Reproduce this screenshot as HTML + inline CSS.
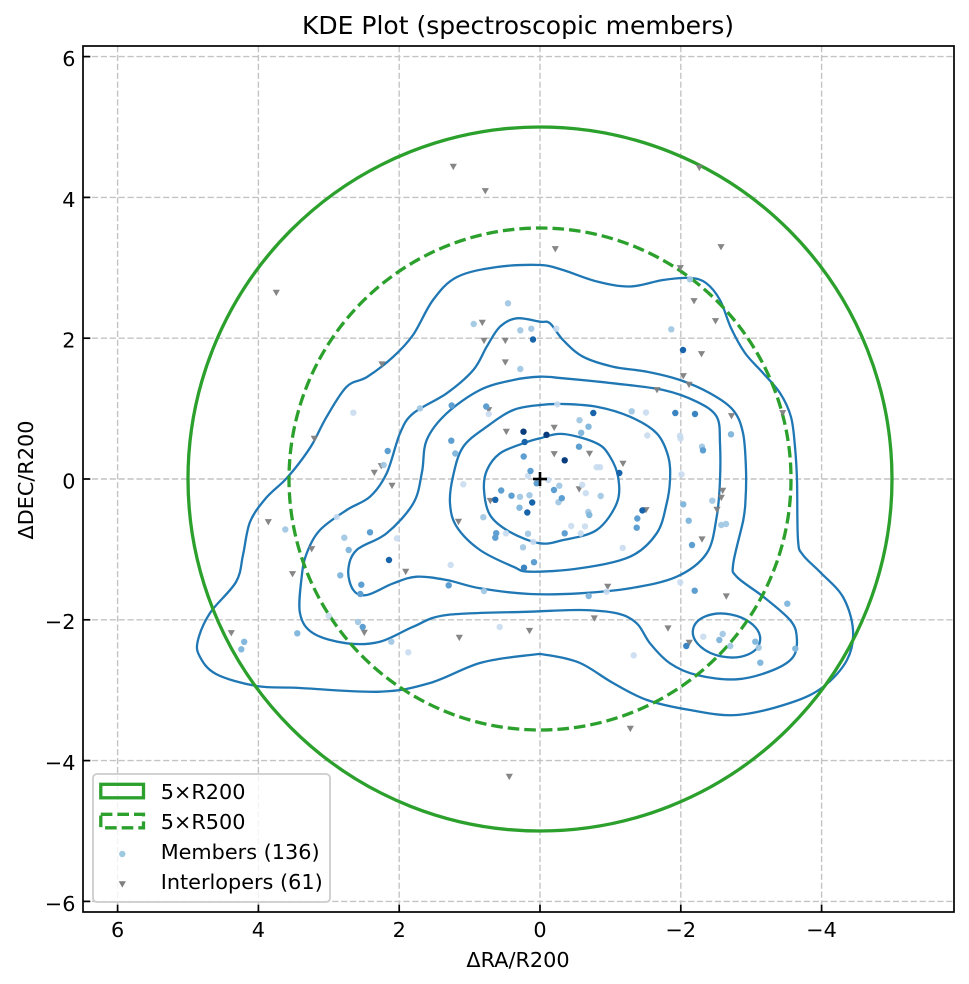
<!DOCTYPE html>
<html>
<head>
<meta charset="utf-8">
<style>
  html,body{margin:0;padding:0;background:#fff;}
  svg{display:block;}
  text{font-family:"DejaVu Sans","Liberation Sans",sans-serif;fill:#000;}
</style>
</head>
<body>
<svg width="969" height="984" viewBox="0 0 969 984" xmlns="http://www.w3.org/2000/svg">
  <rect x="0" y="0" width="969" height="984" fill="#fff"/>
  <defs>
    <clipPath id="ax"><rect x="83" y="46" width="871" height="866"/></clipPath>
  </defs>

  <!-- grid -->
  <g stroke="#c4c4c4" stroke-width="1.4" stroke-dasharray="6.2 2.7" fill="none">
    <line x1="117.6" y1="46" x2="117.6" y2="912"/>
    <line x1="258.4" y1="46" x2="258.4" y2="912"/>
    <line x1="399.2" y1="46" x2="399.2" y2="912"/>
    <line x1="540" y1="46" x2="540" y2="912"/>
    <line x1="680.8" y1="46" x2="680.8" y2="912"/>
    <line x1="821.6" y1="46" x2="821.6" y2="912"/>
    <line x1="83" y1="56.6" x2="954" y2="56.6"/>
    <line x1="83" y1="197.4" x2="954" y2="197.4"/>
    <line x1="83" y1="338.2" x2="954" y2="338.2"/>
    <line x1="83" y1="479" x2="954" y2="479"/>
    <line x1="83" y1="619.8" x2="954" y2="619.8"/>
    <line x1="83" y1="760.6" x2="954" y2="760.6"/>
    <line x1="83" y1="901.4" x2="954" y2="901.4"/>
  </g>

  <g clip-path="url(#ax)">
  <!-- contours -->
  <g fill="none" stroke="#1f77b4" stroke-width="2.3" stroke-linejoin="round">
    <path class="ct" d="M540,265 L563,270 L597,281.5 L630,286.5 L663,280 L690,278 L706,283 L720,300 L731,328 L745,353 L763,373 L780,393 L791,417 L795,447 L797,480 L798,540 L803,555 L820,572 L843,597 L853,630 L847,660 L823,687 L790,703 L737,715 L690,710 L647,700 L613,683 L580,663 L547,655 L530,655 L480,663 L430,683 L380,691.7 L300,688 L256.7,686 L216,674 L199.5,656 L198,640 L210,613 L236,582 L243,555 L250,522 L266,498 L285,480 L300,462 L313,443 L326.7,416.7 L346.7,386.7 L367,377 L393,357 L413,335 L433,300 L457,277 L497,267 Z"/>
    <path class="ct" d="M540,321.7 L550,323.3 L563,340 L583,356.7 L613,366.7 L647,371.7 L680,380 L710,393.3 L733,410 L743,433 L746,470 L745.5,500 L743.3,520 L733.3,563.3 L736.7,576.7 L763.3,596.7 L790,620 L796.7,636.7 L793.3,656.7 L773.3,670 L736.7,679.3 L696.7,675 L670,663.3 L650,643.3 L636.7,623.3 L616.7,613.3 L580,610 L530,611.7 L446.7,615 L413.3,626.7 L380,641.7 L346.7,643.3 L313.3,633.3 L300,613.3 L301.7,576.7 L306.7,553.3 L320,530 L346.7,510 L370,496.7 L386.7,473.3 L400,433.3 L413.3,413.3 L446.7,393.3 L473.3,370 L486.7,346.7 L500,326.7 L516.7,318.3 Z"/>
    <path class="ct" d="M540,376.7 L563.3,378.3 L613.3,383.3 L663.3,390 L696.7,401.7 L716.7,416.7 L720,443.3 L720,480 L716.7,516.7 L706.7,553.3 L676.7,576.7 L630,588.3 L580,593.3 L530,594 L480,588.3 L446.7,580 L416.7,576.7 L393.3,583.3 L366.7,595 L353.3,590 L348.3,570 L356.7,550 L386.7,533.3 L413.3,503.3 L422,472 L426.7,440 L446.7,413.3 L480,390 L513.3,380 Z"/>
    <path class="ct" d="M540,405 L563.3,404 L596.7,406.7 L630,416.7 L656.7,433.3 L668.3,456.7 L670,480 L666.7,503.3 L656.7,533.3 L630,556.7 L580,568.3 L530,571.7 L513.3,566.7 L480,550 L456.7,526.7 L450,503.3 L453.3,475 L463.3,446.7 L486.7,426.7 L513.3,410 Z"/>
    <path class="ct" d="M540,438.3 L563.3,434 L596.7,443.3 L610,456.7 L618.3,478 L616.7,503.3 L596.7,530 L563.3,540 L540,543.3 L510,532 L490,515 L484,490 L487,470 L500,453.3 L523.3,443.3 Z"/>
    <ellipse cx="726.5" cy="635.5" rx="34" ry="21.5" transform="rotate(10 726.5 635.5)"/>
  </g>

  <!-- green circles -->
  <circle cx="540" cy="479" r="352" fill="none" stroke="#2ca02c" stroke-width="3.3"/>
  <circle cx="540" cy="479" r="251" fill="none" stroke="#2ca02c" stroke-width="3.3" stroke-dasharray="11.6 5"/>

  <!-- interlopers -->
  <path fill="#7f7f7f" fill-opacity="0.95" d="
M449.7,163.8h7.2l-3.6,6.3z M481.7,188.1h7.2l-3.6,6.3z M272.7,289.8h7.2l-3.6,6.3z M478.7,319.8h7.2l-3.6,6.3z
M480.4,337.8h7.2l-3.6,6.3z M501.7,337.8h7.2l-3.6,6.3z M501.7,359.4h7.2l-3.6,6.3z M378.4,361.4h7.2l-3.6,6.3z
M485.1,407.1h7.2l-3.6,6.3z M502.7,428.8h7.2l-3.6,6.3z M310.7,435.8h7.2l-3.6,6.3z M377.7,463.1h7.2l-3.6,6.3z
M370.7,469.8h7.2l-3.6,6.3z M695.7,164.8h7.2l-3.6,6.3z M551.7,246.1h7.2l-3.6,6.3z M717.4,244.1h7.2l-3.6,6.3z
M676.7,265.1h7.2l-3.6,6.3z M690.4,298.1h7.2l-3.6,6.3z M711.9,318.1h7.2l-3.6,6.3z M697.9,351.1h7.2l-3.6,6.3z
M679.7,373.1h7.2l-3.6,6.3z M685.4,381.8h7.2l-3.6,6.3z M653.4,387.1h7.2l-3.6,6.3z M779.1,410.1h7.2l-3.6,6.3z
M727.9,413.1h7.2l-3.6,6.3z M550.6,424.7h7.2l-3.6,6.3z M550.6,451.1h7.2l-3.6,6.3z M585.9,450.7h7.2l-3.6,6.3z
M619.4,460.7h7.2l-3.6,6.3z M388.4,482.8h7.2l-3.6,6.3z M264.7,519.1h7.2l-3.6,6.3z M454.9,518.8h7.2l-3.6,6.3z
M486.7,497.9h7.2l-3.6,6.3z M308.1,546.1h7.2l-3.6,6.3z M288.9,571.1h7.2l-3.6,6.3z M402.1,568.8h7.2l-3.6,6.3z
M227.7,630.1h7.2l-3.6,6.3z M360.7,629.8h7.2l-3.6,6.3z M455.7,634.8h7.2l-3.6,6.3z M525.9,627.9h7.2l-3.6,6.3z
M505.7,773.8h7.2l-3.6,6.3z M575.6,486.3h7.2l-3.6,6.3z M642.4,507.1h7.2l-3.6,6.3z M719.1,487.8h7.2l-3.6,6.3z
M717.7,494.8h7.2l-3.6,6.3z M713.4,506.8h7.2l-3.6,6.3z M698.4,536.4h7.2l-3.6,6.3z M604.1,583.8h7.2l-3.6,6.3z
M722.7,593.4h7.2l-3.6,6.3z M590.7,615.4h7.2l-3.6,6.3z M664.4,625.4h7.2l-3.6,6.3z M685.7,639.8h7.2l-3.6,6.3z
M626.7,725.8h7.2l-3.6,6.3z"/>

  <!-- members -->
  <g fill="#c8dcf0" fill-opacity="0.9">
    <circle cx="488.7" cy="414" r="3.2"/><circle cx="557.3" cy="404.3" r="3.2"/><circle cx="646" cy="412.5" r="3.2"/>
    <circle cx="647.3" cy="435.5" r="3.2"/><circle cx="680" cy="435.7" r="3.2"/><circle cx="680.5" cy="438.5" r="3.2"/>
    <circle cx="681.5" cy="474.3" r="3.2"/><circle cx="463.3" cy="484.3" r="3.2"/><circle cx="548.3" cy="480" r="3.2"/>
    <circle cx="582.2" cy="484.8" r="3.2"/><circle cx="585.8" cy="493.2" r="3.2"/><circle cx="571.2" cy="526" r="3.2"/>
    <circle cx="580.7" cy="533.5" r="3.2"/><circle cx="585" cy="526.4" r="3.2"/><circle cx="506" cy="533.3" r="3.2"/>
    <circle cx="533.3" cy="541.8" r="3.2"/><circle cx="450.7" cy="565" r="3.2"/><circle cx="622.7" cy="547.9" r="3.2"/>
    <circle cx="680.3" cy="582.3" r="3.2"/><circle cx="606.7" cy="591.7" r="3.2"/><circle cx="633.7" cy="655.3" r="3.2"/>
    <circle cx="703.3" cy="636.7" r="3.2"/><circle cx="336.7" cy="517" r="3.2"/><circle cx="397" cy="538.3" r="3.2"/>
    <circle cx="328.7" cy="616" r="3.2"/><circle cx="408.3" cy="652.3" r="3.2"/><circle cx="499.7" cy="627" r="3.2"/>
    <circle cx="556.3" cy="328.7" r="3.2"/><circle cx="353.3" cy="412.7" r="3.2"/><circle cx="528" cy="476" r="3.2"/>
    <circle cx="596.7" cy="467.2" r="3.2"/><circle cx="600" cy="467.2" r="3.2"/>
  </g>
  <g fill="#a3c8e4" fill-opacity="0.95">
    <circle cx="508" cy="303.3" r="3.2"/><circle cx="473.7" cy="324" r="3.2"/><circle cx="520.3" cy="330.3" r="3.2"/>
    <circle cx="531.3" cy="328.7" r="3.2"/><circle cx="520.3" cy="369" r="3.2"/><circle cx="671.3" cy="329.3" r="3.2"/>
    <circle cx="690" cy="279.3" r="3.2"/><circle cx="420" cy="408.3" r="3.2"/><circle cx="631.7" cy="411.3" r="3.2"/>
    <circle cx="579.5" cy="420.2" r="3.2"/><circle cx="383.7" cy="465" r="3.2"/><circle cx="702" cy="446.7" r="3.2"/>
    <circle cx="520" cy="496.8" r="3.2"/><circle cx="529.5" cy="495.2" r="3.2"/><circle cx="558.5" cy="502.2" r="3.2"/>
    <circle cx="600.7" cy="496" r="3.2"/><circle cx="588.3" cy="512" r="3.2"/><circle cx="483.3" cy="517.2" r="3.2"/>
    <circle cx="528" cy="533.7" r="3.2"/><circle cx="523" cy="547.3" r="3.2"/><circle cx="712.3" cy="500.7" r="3.2"/>
    <circle cx="721.3" cy="525" r="3.2"/><circle cx="726" cy="524" r="3.2"/><circle cx="722.7" cy="634" r="3.2"/>
    <circle cx="730.3" cy="646" r="3.2"/><circle cx="758.7" cy="647.7" r="3.2"/><circle cx="285.3" cy="529.5" r="3.2"/>
    <circle cx="344.3" cy="537.7" r="3.2"/><circle cx="484" cy="591" r="3.2"/><circle cx="358" cy="622" r="3.2"/>
    <circle cx="391.3" cy="641.7" r="3.2"/><circle cx="559.3" cy="485.7" r="3.2"/>
  </g>
  <g fill="#84b8dc">
    <circle cx="588.5" cy="426.7" r="3.2"/><circle cx="581.2" cy="432.8" r="3.2"/><circle cx="455.3" cy="453.5" r="3.2"/>
    <circle cx="731" cy="434.3" r="3.2"/><circle cx="519.5" cy="507.7" r="3.2"/><circle cx="589.3" cy="515" r="3.2"/>
    <circle cx="683.3" cy="504.3" r="3.2"/><circle cx="688.7" cy="520.7" r="3.2"/><circle cx="588.7" cy="596" r="3.2"/>
    <circle cx="787.3" cy="603.7" r="3.2"/><circle cx="719.3" cy="640" r="3.2"/><circle cx="755.3" cy="641.7" r="3.2"/>
    <circle cx="760.3" cy="662.7" r="3.2"/><circle cx="795.3" cy="648.7" r="3.2"/><circle cx="348.7" cy="550" r="3.2"/>
    <circle cx="340.3" cy="575.3" r="3.2"/><circle cx="297.3" cy="633.3" r="3.2"/><circle cx="244.2" cy="641.8" r="3.2"/>
    <circle cx="241.3" cy="649.3" r="3.2"/>
  </g>
  <g fill="#5d9fd1">
    <circle cx="451.7" cy="405.5" r="3.2"/><circle cx="486.2" cy="406.5" r="3.2"/><circle cx="451.3" cy="440.7" r="3.2"/>
    <circle cx="387.7" cy="451" r="3.2"/><circle cx="579" cy="446.7" r="3.2"/><circle cx="523.7" cy="456.5" r="3.2"/>
    <circle cx="703" cy="450.3" r="3.2"/><circle cx="530.5" cy="471" r="3.2"/><circle cx="501.2" cy="490.5" r="3.2"/>
    <circle cx="511.5" cy="495.7" r="3.2"/><circle cx="536.7" cy="483.3" r="3.2"/><circle cx="554" cy="490" r="3.2"/>
    <circle cx="561.8" cy="498.2" r="3.2"/><circle cx="564.7" cy="533.3" r="3.2"/><circle cx="496.2" cy="533.2" r="3.2"/>
    <circle cx="495.3" cy="537.7" r="3.2"/><circle cx="534" cy="562.2" r="3.2"/><circle cx="637.3" cy="518.5" r="3.2"/>
    <circle cx="636.7" cy="527.7" r="3.2"/><circle cx="692" cy="545" r="3.2"/><circle cx="694.7" cy="590.7" r="3.2"/>
    <circle cx="370" cy="532.3" r="3.2"/><circle cx="361.3" cy="584.7" r="3.2"/><circle cx="360.3" cy="594" r="3.2"/>
    <circle cx="448.7" cy="585.3" r="3.2"/><circle cx="362.7" cy="627" r="3.2"/>
  </g>
  <g fill="#3a84c1">
    <circle cx="675.3" cy="413" r="3.2"/><circle cx="695" cy="414" r="3.2"/><circle cx="524" cy="567.7" r="3.2"/>
    <circle cx="686.3" cy="646" r="3.2"/>
  </g>
  <g fill="#1764ab">
    <circle cx="533" cy="339.5" r="3.2"/><circle cx="683" cy="350" r="3.2"/><circle cx="593.3" cy="413" r="3.2"/>
    <circle cx="524.7" cy="442" r="3.2"/><circle cx="619.3" cy="473" r="3.2"/><circle cx="495.3" cy="499.8" r="3.2"/>
    <circle cx="532.2" cy="502.5" r="3.2"/><circle cx="527.3" cy="512.5" r="3.2"/><circle cx="642.4" cy="510.4" r="3.2"/>
    <circle cx="389" cy="560" r="3.2"/>
  </g>
  <g fill="#0a3d7e">
    <circle cx="523.5" cy="431.7" r="3.2"/><circle cx="546.5" cy="434.8" r="3.2"/><circle cx="564.7" cy="460.3" r="3.2"/>
  </g>

  <!-- center cross -->
  <g stroke="#000" stroke-width="2.6">
    <line x1="533" y1="479" x2="547" y2="479"/>
    <line x1="540" y1="472" x2="540" y2="486"/>
  </g>
  </g>

  <!-- legend -->
  <rect x="93" y="774" width="237" height="128" rx="4" ry="4" fill="#fff" fill-opacity="0.8" stroke="#cccccc" stroke-width="1.8"/>
  <rect x="100.8" y="784.3" width="42.7" height="13.5" fill="none" stroke="#2ca02c" stroke-width="3.3"/>
  <rect x="100.8" y="814.3" width="42.7" height="13.5" fill="none" stroke="#2ca02c" stroke-width="3.3" stroke-dasharray="11.6 5"/>
  <circle cx="122.3" cy="854" r="3.2" fill="#9ecae1"/>
  <path d="M118.7,881.3h7.2l-3.6,6.3z" fill="#7f7f7f"/>
  <g font-size="20.8">
    <text x="160.7" y="799">5×R200</text>
    <text x="160.7" y="829">5×R500</text>
    <text x="160.7" y="859">Members (136)</text>
    <text x="160.7" y="889">Interlopers (61)</text>
  </g>

  <!-- spines -->
  <rect x="83" y="46" width="871" height="866" fill="none" stroke="#000" stroke-width="1.7"/>

  <!-- ticks -->
  <g stroke="#000" stroke-width="1.7">
    <line x1="117.6" y1="912" x2="117.6" y2="904.7"/>
    <line x1="258.4" y1="912" x2="258.4" y2="904.7"/>
    <line x1="399.2" y1="912" x2="399.2" y2="904.7"/>
    <line x1="540" y1="912" x2="540" y2="904.7"/>
    <line x1="680.8" y1="912" x2="680.8" y2="904.7"/>
    <line x1="821.6" y1="912" x2="821.6" y2="904.7"/>
    <line x1="83" y1="56.6" x2="90.3" y2="56.6"/>
    <line x1="83" y1="197.4" x2="90.3" y2="197.4"/>
    <line x1="83" y1="338.2" x2="90.3" y2="338.2"/>
    <line x1="83" y1="479" x2="90.3" y2="479"/>
    <line x1="83" y1="619.8" x2="90.3" y2="619.8"/>
    <line x1="83" y1="760.6" x2="90.3" y2="760.6"/>
    <line x1="83" y1="901.4" x2="90.3" y2="901.4"/>
  </g>

  <!-- tick labels -->
  <g font-size="20.8" text-anchor="middle">
    <text x="117.6" y="937">6</text>
    <text x="258.4" y="937">4</text>
    <text x="399.2" y="937">2</text>
    <text x="540" y="937">0</text>
    <text x="680.8" y="937">−2</text>
    <text x="821.6" y="937">−4</text>
  </g>
  <g font-size="20.8" text-anchor="end">
    <text x="75.5" y="66">6</text>
    <text x="75.5" y="206.8">4</text>
    <text x="75.5" y="347.6">2</text>
    <text x="75.5" y="488.4">0</text>
    <text x="75.5" y="629.2">−2</text>
    <text x="75.5" y="770">−4</text>
    <text x="75.5" y="910.8">−6</text>
  </g>

  <!-- axis labels & title -->
  <text x="518" y="967" font-size="20.8" text-anchor="middle">ΔRA/R200</text>
  <text transform="translate(33,480) rotate(-90)" font-size="20.8" text-anchor="middle">ΔDEC/R200</text>
  <text x="518" y="34" font-size="25" text-anchor="middle">KDE Plot (spectroscopic members)</text>
</svg>
<script>
(function(){
  var els=document.querySelectorAll('path.ct');
  for(var k=0;k<els.length;k++){
    var el=els[k];
    var n=el.getAttribute('d').match(/-?[\d.]+/g).map(Number);
    var P=[];for(var i=0;i+1<n.length;i+=2)P.push([n[i],n[i+1]]);
    var N=P.length;var s='M'+P[0][0]+','+P[0][1];
    for(var i=0;i<N;i++){
      var p0=P[(i-1+N)%N],p1=P[i],p2=P[(i+1)%N],p3=P[(i+2)%N];
      var c1x=p1[0]+(p2[0]-p0[0])/6,c1y=p1[1]+(p2[1]-p0[1])/6;
      var c2x=p2[0]-(p3[0]-p1[0])/6,c2y=p2[1]-(p3[1]-p1[1])/6;
      s+='C'+c1x.toFixed(1)+','+c1y.toFixed(1)+' '+c2x.toFixed(1)+','+c2y.toFixed(1)+' '+p2[0]+','+p2[1];
    }
    el.setAttribute('d',s+'Z');
  }
})();
</script>
</body>
</html>
